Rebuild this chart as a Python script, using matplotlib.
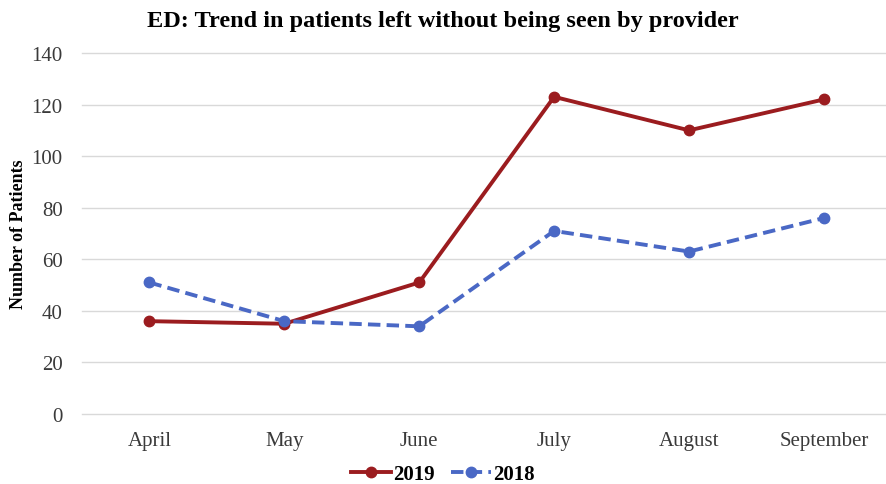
import matplotlib
matplotlib.use("Agg")
import matplotlib.pyplot as plt

months = ["April", "May", "June", "July", "August", "September"]
y2019 = [36, 35, 51, 123, 110, 122]
y2018 = [51, 36, 34, 71, 63, 76]
yticks = [0, 20, 40, 60, 80, 100, 120, 140]

plt.rcParams['font.family'] = ['Liberation Serif', 'DejaVu Serif']

fig = plt.figure(figsize=(8.86, 4.85), dpi=100)
ax = fig.add_axes([82/886, 1 - 415/485, 1 - 82/886, 361/485])

x = list(range(len(months)))
ax.plot(x, y2019, color='#9b1c1f', lw=2.8, marker='o', ms=7.5, label='2019', zorder=3)
ax.plot(x, y2018, color='#4a68c5', lw=2.8, ls=(0, (3.2, 1.6)), marker='o', ms=7.5, label='2018', zorder=3)

ax.set_xlim(-0.5, 5.46)
ax.set_ylim(0, 140)
ax.set_yticks(yticks)
ax.set_xticks(x)
ax.set_xticklabels(months)
ax.tick_params(axis='both', length=0, labelsize=15, colors='#3a3a3a')
ax.tick_params(axis='x', pad=12)
ax.tick_params(axis='y', pad=14)
ax.grid(axis='y', color='#d9d9d9', lw=1)
for gl in ax.get_ygridlines():
    gl.set_clip_on(False)
ax.set_axisbelow(True)
for s in ax.spines.values():
    s.set_visible(False)

ax.set_ylabel("Number of Patients", fontsize=13, fontweight='bold', labelpad=3)
fig.suptitle("ED: Trend in patients left without being seen by provider",
             fontsize=17.5, fontweight='bold', x=0.5, y=1 - 21/485, va='center')

fig.legend(loc='center', bbox_to_anchor=(0.5, 10/485), ncol=2, frameon=False,
           handlelength=1.9, columnspacing=0.8, handletextpad=0.1,
           prop={'weight': 'bold', 'size': 15})

fig.savefig("out.png", dpi=100)
